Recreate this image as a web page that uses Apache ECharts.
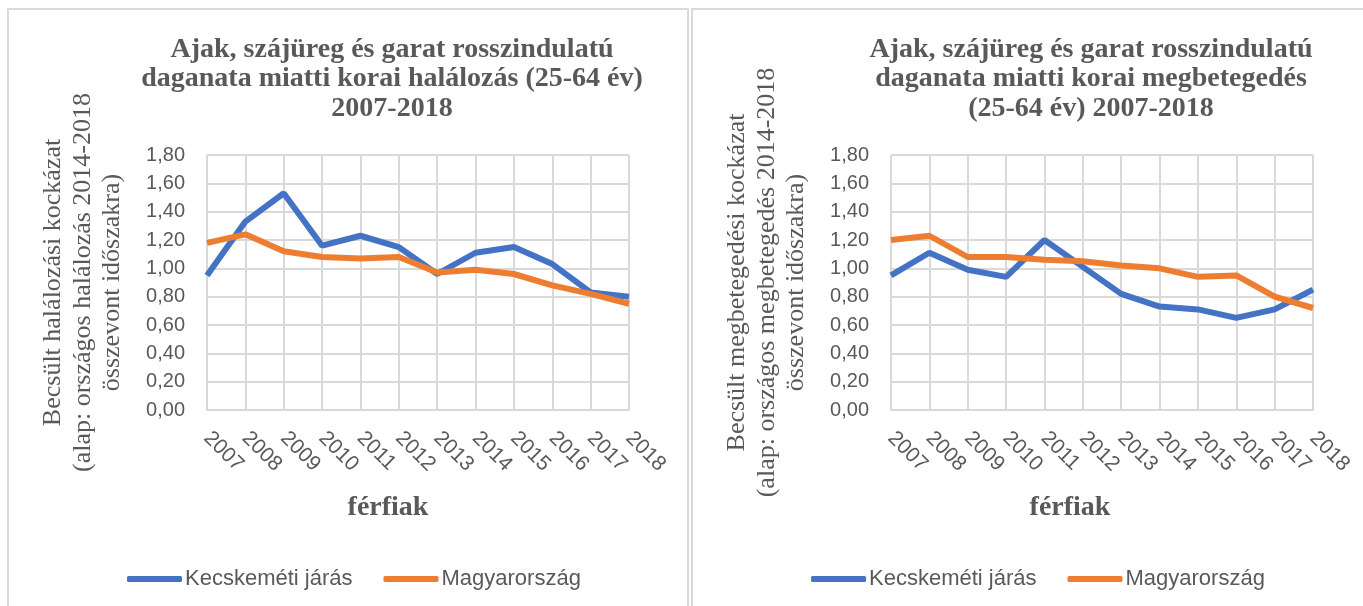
<!DOCTYPE html>
<html>
<head>
<meta charset="utf-8">
<script src="https://cdn.jsdelivr.net/npm/echarts@6/dist/echarts.min.js"></script>
<style>
  html, body { margin: 0; padding: 0; background: #fff; }
  #chart { width: 1363px; height: 606px; }
</style>
</head>
<body>
<div id="chart"></div>
<script>
var years = ['2007','2008','2009','2010','2011','2012','2013','2014','2015','2016','2017','2018']
var halKecskemet = [0.95, 1.33, 1.53, 1.16, 1.23, 1.15, 0.96, 1.11, 1.15, 1.03, 0.83, 0.80]
var halMagyar = [1.18, 1.24, 1.12, 1.08, 1.07, 1.08, 0.97, 0.99, 0.96, 0.88, 0.82, 0.75]
var megKecskemet = [0.95, 1.11, 0.99, 0.94, 1.20, 1.01, 0.82, 0.73, 0.71, 0.65, 0.71, 0.85]
var megMagyar = [1.20, 1.23, 1.08, 1.08, 1.06, 1.05, 1.02, 1.00, 0.94, 0.95, 0.80, 0.72]
var yTicks = [0, 0.2, 0.4, 0.6, 0.8, 1.0, 1.2, 1.4, 1.6, 1.8]

var gray = '#595959'
var serif = '"Liberation Serif", "DejaVu Serif", serif'
var sans = '"Liberation Sans", Arial, sans-serif'
var blue = '#4472C4'
var orange = '#ED7D31'

var chart = echarts.init(document.getElementById('chart'))

function xAx(idx){
  return {
    gridIndex: idx,
    type: 'category',
    data: years,
    boundaryGap: false,
    axisLine: { lineStyle: { color: '#d9d9d9', width: 2 } },
    axisTick: { show: false },
    splitLine: { show: true, lineStyle: { color: '#d9d9d9', width: 2 } },
    axisLabel: { rotate: -45, color: gray, fontFamily: sans, fontSize: 21, margin: 25, interval: 0 }
  }
}
function yAx(idx, name){
  return {
    gridIndex: idx,
    type: 'value',
    min: yTicks[0],
    max: yTicks[yTicks.length - 1],
    interval: 0.2,
    name: name,
    nameLocation: 'middle',
    nameGap: 80,
    nameTextStyle: { color: gray, fontFamily: serif, fontSize: 26, lineHeight: 29.5, align: 'center' },
    axisLine: { show: false },
    axisTick: { show: false },
    splitLine: { lineStyle: { color: '#d9d9d9', width: 2 } },
    axisLabel: {
      color: gray, fontFamily: sans, fontSize: 20, margin: 22,
      formatter: function(v){ return v.toFixed(2).replace('.', ',') }
    }
  }
}
function line(name, data, color, idx){
  return {
    name: name, type: 'line', data: data,
    xAxisIndex: idx, yAxisIndex: idx,
    symbol: 'none',
    lineStyle: { color: color, width: 6 },
    itemStyle: { color: color }
  }
}
var titleStyle = { color: gray, fontFamily: serif, fontSize: 28, fontWeight: 'bold', lineHeight: 29.5 }
var legendBase = {
  top: 563,
  itemWidth: 55, itemHeight: 6, itemGap: 31,
  icon: 'roundRect',
  textStyle: { color: gray, fontFamily: sans, fontSize: 22, padding: [0, 0, 0, -2] },
  data: ['Kecskeméti járás', 'Magyarország']
}

chart.setOption({
  animation: false,
  title: [
    { text: 'Ajak, szájüreg és garat rosszindulatú\ndaganata miatti korai halálozás (25-64 év)\n2007-2018',
      left: 387, top: 30, textAlign: 'center', textStyle: titleStyle },
    { text: 'Ajak, szájüreg és garat rosszindulatú\ndaganata miatti korai megbetegedés\n(25-64 év) 2007-2018',
      left: 1086, top: 30, textAlign: 'center', textStyle: titleStyle },
    { text: 'férfiak', left: 383, top: 488, textAlign: 'center', textStyle: titleStyle },
    { text: 'férfiak', left: 1065, top: 488, textAlign: 'center', textStyle: titleStyle }
  ],
  legend: [
    Object.assign({ left: 122 }, legendBase),
    Object.assign({ left: 806 }, legendBase)
  ],
  grid: [
    { left: 207, top: 155, right: 734, bottom: 196 },
    { left: 891, top: 155, right: 50, bottom: 196 }
  ],
  xAxis: [xAx(0), xAx(1)],
  yAxis: [
    yAx(0, 'Becsült halálozási kockázat\n(alap: országos halálozás 2014-2018\nösszevont időszakra)'),
    yAx(1, 'Becsült megbetegedési kockázat\n(alap: országos megbetegedés 2014-2018\nösszevont időszakra)')
  ],
  graphic: [
    { type: 'rect', shape: { x: 8, y: 9, width: 680, height: 620 }, style: { fill: 'none', stroke: '#d9d9d9', lineWidth: 2 }, silent: true },
    { type: 'rect', shape: { x: 692, y: 9, width: 700, height: 620 }, style: { fill: 'none', stroke: '#d9d9d9', lineWidth: 2 }, silent: true }
  ],
  series: [
    line('Kecskeméti járás', halKecskemet, blue, 0),
    line('Magyarország', halMagyar, orange, 0),
    line('Kecskeméti járás', megKecskemet, blue, 1),
    line('Magyarország', megMagyar, orange, 1)
  ]
})
</script>
</body>
</html>
